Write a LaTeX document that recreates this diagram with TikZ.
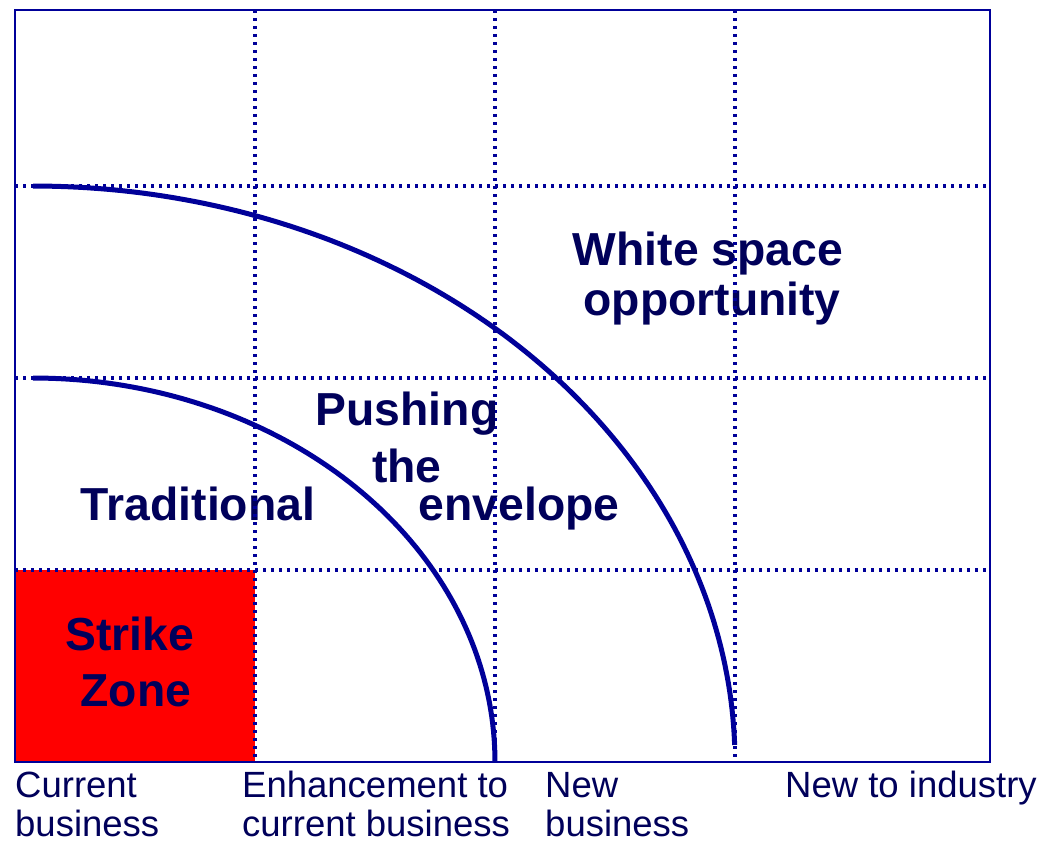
\documentclass[tikz,border=0pt]{standalone}
\usepackage{fontspec}
\setmainfont{Liberation Sans}
\definecolor{lineblue}{HTML}{000099}
\definecolor{textnavy}{HTML}{00005A}
\definecolor{strikered}{HTML}{FF0000}
\begin{document}
\begin{tikzpicture}[x=1pt,y=-1pt,
  grid/.style={lineblue,line width=3.4pt,dash pattern=on 3.4pt off 4.6pt},
  frame/.style={lineblue,line width=2.4pt},
  curve/.style={lineblue,line width=5pt},
  big/.style={text=textnavy,font=\fontsize{46.3}{50}\selectfont\bfseries,anchor=base,inner sep=0pt},
  axis/.style={text=textnavy,font=\fontsize{36.5}{40}\selectfont,anchor=base west,inner sep=0pt}]
\useasboundingbox (0,0) rectangle (1040,845);
% red strike zone
\fill[strikered] (15,570) rectangle (255,762);
% text under grid
\node[big] (ws1) at (708,265) {White space};
\node[big] (ws2) at (712,315) {opportunity};
\node[big] (trad) at (198,520) {Traditional};
\node[big] (env) at (519,520) {envelope};
\node[big] (sz1) at (130,650) {Strike};
\node[big] (sz2) at (136,706) {Zone};
% grid
\foreach \y in {186,378,570} \draw[grid] (15,\y) -- (990,\y);
\foreach \x in {255,495,735} \draw[grid] (\x,10) -- (\x,762);
% frame
\draw[frame] (15,10) rectangle (990,762);
% text over grid
\node[big] (push) at (407,425) {Pushing};
\node[big] (the) at (407,482) {the};
% arcs
\draw[curve] plot[domain=90:0,samples=80] ({33+462*cos(\x)},{762-384*sin(\x)});
\draw[curve] plot[domain=90:1.7,samples=100] ({33+702*cos(\x)},{762-576*sin(\x)});
% axis labels
\node[axis] (c1) at (15,797) {Current};
\node[axis] (c2) at (15,836) {business};
\node[axis] (e1) at (242,797) {Enhancement to};
\node[axis] (e2) at (242,836) {current business};
\node[axis] (n1) at (545,797) {New};
\node[axis] (n2) at (545,836) {business};
\node[axis] (ni) at (785,797) {New to industry};
\end{tikzpicture}
\end{document}
